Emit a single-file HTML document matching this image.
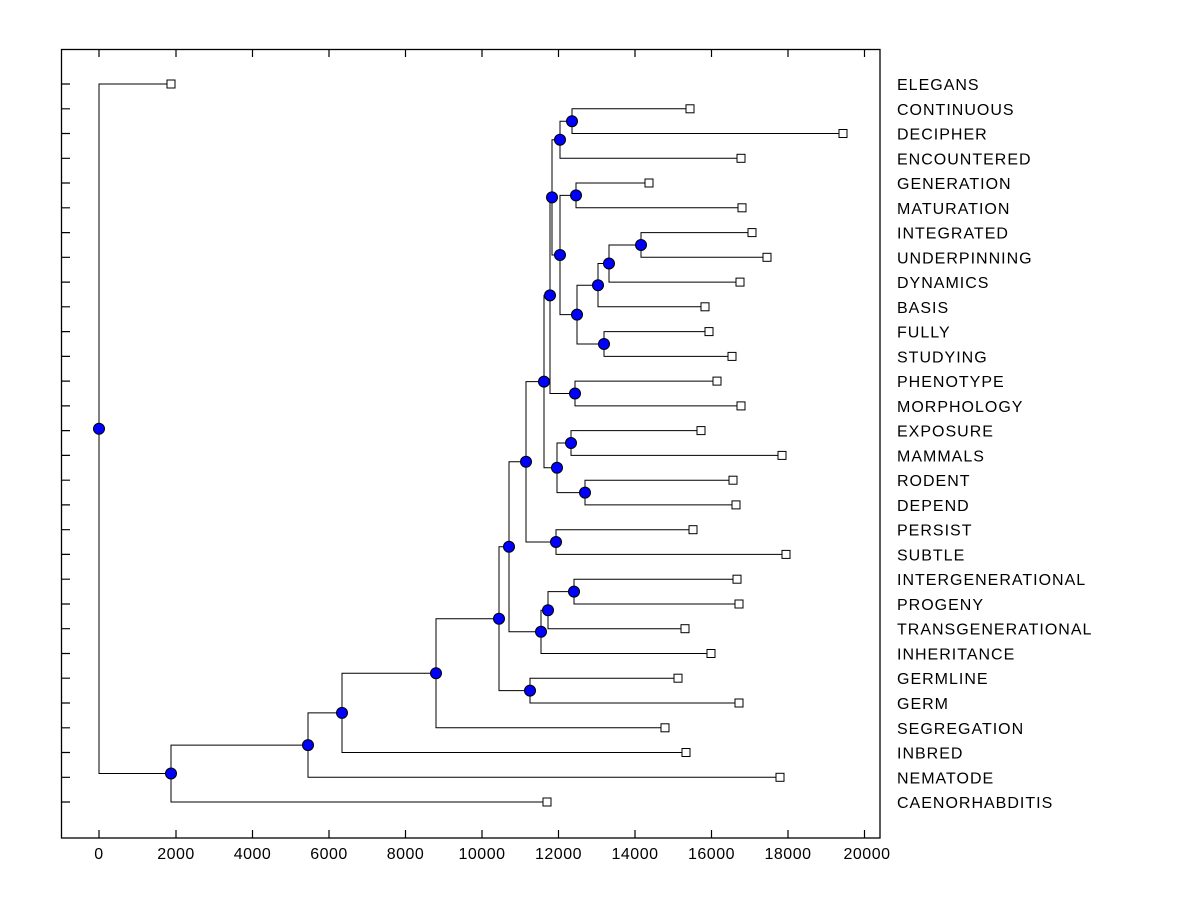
<!DOCTYPE html>
<html><head><meta charset="utf-8"><style>body{margin:0;background:#fff}svg{display:block}text{font-family:"Liberation Sans",Arial,sans-serif;font-size:16px;fill:#000}.lb text{letter-spacing:1px}</style></head><body>
<svg width="1200" height="900" xmlns="http://www.w3.org/2000/svg">
<rect x="61.5" y="49.5" width="818.5" height="788.5" fill="none" stroke="#000" stroke-width="1.3"/>
<g stroke="#000" stroke-width="1.2">
<path d="M99 838v-8M176 838v-8M252.5 838v-8M329 838v-8M405.5 838v-8M482 838v-8M558.5 838v-8M635 838v-8M711.5 838v-8M788 838v-8M864.5 838v-8M99 49v8M176 49v8M252.5 49v8M329 49v8M405.5 49v8M482 49v8M558.5 49v8M635 49v8M711.5 49v8M788 49v8M864.5 49v8"/>
<path d="M61 84h9M61 108.8h9M61 133.5h9M61 158.3h9M61 183h9M61 207.8h9M61 232.6h9M61 257.3h9M61 282.1h9M61 306.8h9M61 331.6h9M61 356.4h9M61 381.1h9M61 405.9h9M61 430.6h9M61 455.4h9M61 480.2h9M61 504.9h9M61 529.7h9M61 554.4h9M61 579.2h9M61 604h9M61 628.7h9M61 653.5h9M61 678.2h9M61 703h9M61 727.8h9M61 752.5h9M61 777.3h9M61 802h9"/>
</g>
<g text-anchor="middle" style="letter-spacing:0.5px">
<text x="99" y="859">0</text><text x="176" y="859">2000</text><text x="252.5" y="859">4000</text><text x="329" y="859">6000</text><text x="405.5" y="859">8000</text><text x="482" y="859">10000</text><text x="558.5" y="859">12000</text><text x="635" y="859">14000</text><text x="711.5" y="859">16000</text><text x="788" y="859">18000</text><text x="867" y="859">20000</text>
</g>
<g fill="none" stroke="#000" stroke-width="1">
<path d="M99 428.8V84H171M99 428.8V773.5H171"/>
<path d="M171 773.5V745.1H308M171 773.5V802H547"/>
<path d="M308 745.1V712.9H342M308 745.1V777.3H780"/>
<path d="M342 712.9V673.2H436M342 712.9V752.5H686"/>
<path d="M436 673.2V618.7H499M436 673.2V727.8H665"/>
<path d="M499 618.7V546.8H509M499 618.7V690.6H530"/>
<path d="M530 690.6V678.2H678M530 690.6V703H739"/>
<path d="M509 546.8V461.8H526M509 546.8V631.8H541"/>
<path d="M541 631.8V610.2H548M541 631.8V653.5H711"/>
<path d="M548 610.2V591.6H574M548 610.2V628.7H685"/>
<path d="M574 591.6V579.2H737M574 591.6V604H739"/>
<path d="M526 461.8V381.6H544M526 461.8V542H556"/>
<path d="M556 542V529.7H693M556 542V554.4H786"/>
<path d="M544 381.6V295.4H550M544 381.6V467.8H557"/>
<path d="M557 467.8V443H571M557 467.8V492.6H585"/>
<path d="M571 443V430.6H701M571 443V455.4H782"/>
<path d="M585 492.6V480.2H733M585 492.6V504.9H736"/>
<path d="M550 295.4V197.4H552M550 295.4V393.5H575"/>
<path d="M575 393.5V381.1H717M575 393.5V405.9H741"/>
<path d="M552 197.4V139.7H560M552 197.4V255H560"/>
<path d="M560 139.7V121.2H572M560 139.7V158.3H741"/>
<path d="M572 121.2V108.8H690M572 121.2V133.5H843"/>
<path d="M560 255V195.4H576M560 255V314.6H577"/>
<path d="M576 195.4V183H649M576 195.4V207.8H742"/>
<path d="M577 314.6V285.2H598M577 314.6V344H604"/>
<path d="M604 344V331.6H709M604 344V356.4H732"/>
<path d="M598 285.2V263.5H609M598 285.2V306.8H705"/>
<path d="M609 263.5V245H641M609 263.5V282.1H740"/>
<path d="M641 245V232.6H752M641 245V257.3H767"/>
</g>
<g fill="#fff" stroke="#000" stroke-width="1">
<rect x="167" y="80" width="8" height="8"/><rect x="686" y="104.8" width="8" height="8"/><rect x="839" y="129.5" width="8" height="8"/><rect x="737" y="154.3" width="8" height="8"/><rect x="645" y="179" width="8" height="8"/><rect x="738" y="203.8" width="8" height="8"/><rect x="748" y="228.6" width="8" height="8"/><rect x="763" y="253.3" width="8" height="8"/><rect x="736" y="278.1" width="8" height="8"/><rect x="701" y="302.8" width="8" height="8"/><rect x="705" y="327.6" width="8" height="8"/><rect x="728" y="352.4" width="8" height="8"/><rect x="713" y="377.1" width="8" height="8"/><rect x="737" y="401.9" width="8" height="8"/><rect x="697" y="426.6" width="8" height="8"/><rect x="778" y="451.4" width="8" height="8"/><rect x="729" y="476.2" width="8" height="8"/><rect x="732" y="500.9" width="8" height="8"/><rect x="689" y="525.7" width="8" height="8"/><rect x="782" y="550.4" width="8" height="8"/><rect x="733" y="575.2" width="8" height="8"/><rect x="735" y="600" width="8" height="8"/><rect x="681" y="624.7" width="8" height="8"/><rect x="707" y="649.5" width="8" height="8"/><rect x="674" y="674.2" width="8" height="8"/><rect x="735" y="699" width="8" height="8"/><rect x="661" y="723.8" width="8" height="8"/><rect x="682" y="748.5" width="8" height="8"/><rect x="776" y="773.3" width="8" height="8"/><rect x="543" y="798" width="8" height="8"/>
</g>
<g fill="#0000ff" stroke="#000" stroke-width="1">
<circle cx="99" cy="428.8" r="5.5"/><circle cx="171" cy="773.5" r="5.5"/><circle cx="308" cy="745.1" r="5.5"/><circle cx="342" cy="712.9" r="5.5"/><circle cx="436" cy="673.2" r="5.5"/><circle cx="499" cy="618.7" r="5.5"/><circle cx="530" cy="690.6" r="5.5"/><circle cx="509" cy="546.8" r="5.5"/><circle cx="541" cy="631.8" r="5.5"/><circle cx="548" cy="610.2" r="5.5"/><circle cx="574" cy="591.6" r="5.5"/><circle cx="526" cy="461.8" r="5.5"/><circle cx="556" cy="542" r="5.5"/><circle cx="544" cy="381.6" r="5.5"/><circle cx="557" cy="467.8" r="5.5"/><circle cx="571" cy="443" r="5.5"/><circle cx="585" cy="492.6" r="5.5"/><circle cx="550" cy="295.4" r="5.5"/><circle cx="575" cy="393.5" r="5.5"/><circle cx="552" cy="197.4" r="5.5"/><circle cx="560" cy="139.7" r="5.5"/><circle cx="572" cy="121.2" r="5.5"/><circle cx="560" cy="255" r="5.5"/><circle cx="576" cy="195.4" r="5.5"/><circle cx="577" cy="314.6" r="5.5"/><circle cx="604" cy="344" r="5.5"/><circle cx="598" cy="285.2" r="5.5"/><circle cx="609" cy="263.5" r="5.5"/><circle cx="641" cy="245" r="5.5"/>
</g>
<g class="lb">
<text x="897" y="90">ELEGANS</text><text x="897" y="114.8">CONTINUOUS</text><text x="897" y="139.5">DECIPHER</text><text x="897" y="164.3">ENCOUNTERED</text><text x="897" y="189">GENERATION</text><text x="897" y="213.8">MATURATION</text><text x="897" y="238.6">INTEGRATED</text><text x="897" y="263.3">UNDERPINNING</text><text x="897" y="288.1">DYNAMICS</text><text x="897" y="312.8">BASIS</text><text x="897" y="337.6">FULLY</text><text x="897" y="362.4">STUDYING</text><text x="897" y="387.1">PHENOTYPE</text><text x="897" y="411.9">MORPHOLOGY</text><text x="897" y="436.6">EXPOSURE</text><text x="897" y="461.4">MAMMALS</text><text x="897" y="486.2">RODENT</text><text x="897" y="510.9">DEPEND</text><text x="897" y="535.7">PERSIST</text><text x="897" y="560.4">SUBTLE</text><text x="897" y="585.2">INTERGENERATIONAL</text><text x="897" y="610">PROGENY</text><text x="897" y="634.7">TRANSGENERATIONAL</text><text x="897" y="659.5">INHERITANCE</text><text x="897" y="684.2">GERMLINE</text><text x="897" y="709">GERM</text><text x="897" y="733.8">SEGREGATION</text><text x="897" y="758.5">INBRED</text><text x="897" y="783.3">NEMATODE</text><text x="897" y="808">CAENORHABDITIS</text>
</g>
</svg>
</body></html>
